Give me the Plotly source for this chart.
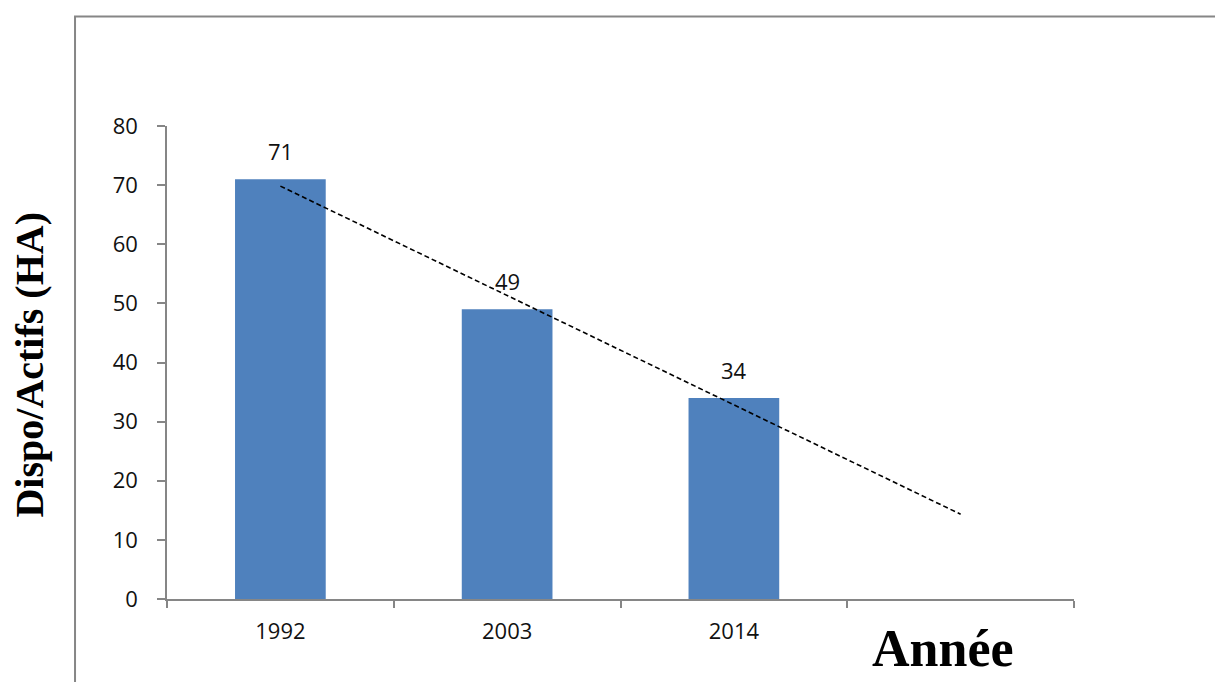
import numpy as np
import plotly.graph_objects as go

# Data
years = ["1992", "2003", "2014"]
values = [71, 49, 34]
forecast_slot = " "          # extra category the trend is extended into
y_title = "Dispo/Actifs (HA)"
x_title = "Année"

categories = years + [forecast_slot]

# Linear trend fitted on the observed points, extended one period forward
pos = np.arange(1, len(values) + 1)
slope, intercept = np.polyfit(pos, values, 1)
trend_pos = np.array([1, len(values) + 1])
trend_vals = slope * trend_pos + intercept

BAR = "#4F81BD"
AXIS = "#868686"
TICK_FONT = dict(family="Open Sans", size=22, color="#111111")

fig = go.Figure()

fig.add_trace(go.Bar(
    x=years, y=values,
    marker=dict(color=BAR, line=dict(width=0)),
    width=0.4,
    showlegend=False,
    hoverinfo="x+y",
))

fig.add_trace(go.Scatter(
    x=[categories[0], categories[-1]], y=trend_vals,
    mode="lines",
    line=dict(color="black", width=1.6, dash="5px,3px"),
    showlegend=False,
    hoverinfo="skip",
))

# value labels above the bars (category positions are 0, 1, 2 ...)
for i, v in enumerate(values):
    fig.add_annotation(
        x=i, y=v, xref="x", yref="y", text=str(v), showarrow=False,
        yanchor="bottom", yshift=11,
        font=TICK_FONT,
    )

# axis titles
fig.add_annotation(
    xref="paper", yref="paper", x=-0.152, y=0.496,
    text=f"<b>{y_title}</b>", textangle=-90, showarrow=False,
    xanchor="center", yanchor="middle",
    font=dict(family="Liberation Serif", size=40, color="black"),
)
fig.add_annotation(
    xref="paper", yref="paper", x=0.8556, y=-0.105,
    text=f"<b>{x_title}</b>", showarrow=False,
    xanchor="center", yanchor="middle",
    font=dict(family="Liberation Serif", size=52, color="black"),
)

# outer chart frame (runs past the right and bottom edges)
fig.add_shape(
    type="rect", xref="paper", yref="paper",
    x0=-0.1014, x1=1.17, y0=-0.2, y1=1.2315,
    line=dict(color=AXIS, width=2), fillcolor="rgba(0,0,0,0)",
    layer="below",
)

fig.update_layout(
    width=1215, height=682,
    margin=dict(l=167, r=141, t=126, b=83, pad=0),
    paper_bgcolor="white", plot_bgcolor="white",
    bargap=0.6,
    xaxis=dict(
        type="category",
        categoryorder="array", categoryarray=categories,
        range=[-0.5, len(categories) - 0.5],
        tickson="boundaries",
        ticks="outside", ticklen=7, tickwidth=1.5, tickcolor=AXIS,
        showline=True, linecolor=AXIS, linewidth=1.5,
        showgrid=False, zeroline=False,
        tickfont=TICK_FONT, ticklabelstandoff=12,
        fixedrange=True,
    ),
    yaxis=dict(
        range=[0, 80], dtick=10,
        ticks="outside", ticklen=8, tickwidth=1.5, tickcolor=AXIS,
        showline=True, linecolor=AXIS, linewidth=1.5,
        showgrid=False, zeroline=False,
        tickfont=TICK_FONT, ticklabelstandoff=15,
        fixedrange=True,
    ),
)

fig.write_html("out.html")
